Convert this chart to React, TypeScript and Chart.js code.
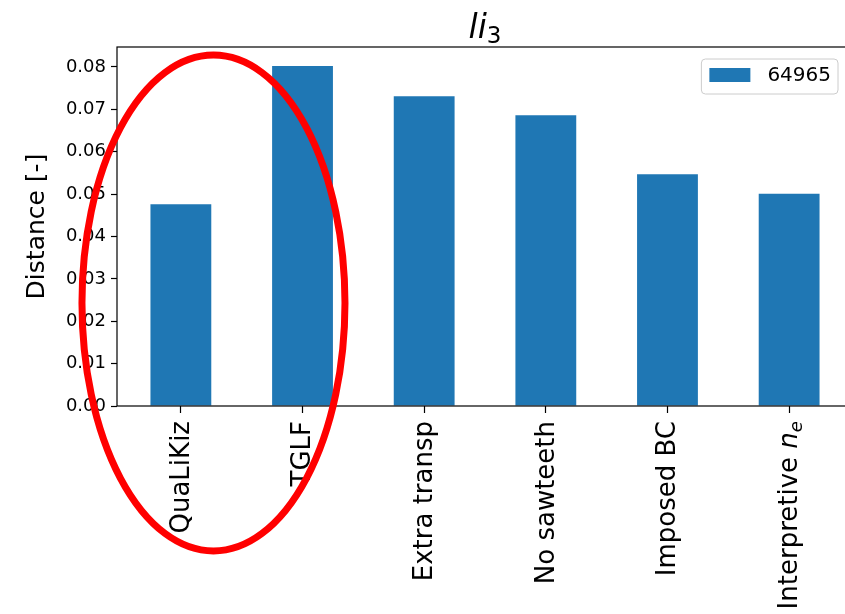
import React, { useEffect, useRef } from 'react';
import { Chart, registerables } from 'chart.js';

Chart.register(...registerables);

const FONT = '"DejaVu Sans", sans-serif';

// ---- data ----
const categories = ['QuaLiKiz', 'TGLF', 'Extra transp', 'No sawteeth', 'Imposed BC', 'Interpretive $n_e$'];
const seriesLabel = '64965';
const seriesValues = [0.0476, 0.0802, 0.0731, 0.0686, 0.0547, 0.0501];
const yTickValues = [0, 0.01, 0.02, 0.03, 0.04, 0.05, 0.06, 0.07, 0.08];
const yMin = 0;
const yMax = 0.0847;
const xMin = -0.525;
const xMax = 5.525;
const titleMain = 'li';
const titleSub = '3';
const yAxisLabel = 'Distance [-]';
// annotation ellipse in data units: [centerX, centerY, radiusX, radiusY]
const ellipseData = [0.268, 0.0243, 1.081, 0.0585];

const BAR_COLOR = '#1f77b4';

function parseLabel(label: string) {
  const m = label.match(/^(.*)\$(\w)_(\w)\$$/);
  if (!m) return [{ text: label, style: 'normal' }];
  return [
    { text: m[1], style: 'normal' },
    { text: m[2], style: 'italic' },
    { text: m[3], style: 'sub' },
  ];
}

export default function App() {
  const ref = useRef<HTMLCanvasElement>(null);

  useEffect(() => {
    document.body.style.margin = '0';
    const canvas = ref.current;
    if (!canvas) return;

    const custom = {
      id: 'customDraw',
      afterDraw(chart: any) {
        const ctx = chart.ctx as CanvasRenderingContext2D;
        const area = chart.chartArea;
        const xs = chart.scales.x;
        const ys = chart.scales.y;
        ctx.save();

        // spines
        ctx.strokeStyle = '#000';
        ctx.lineWidth = 1.2;
        ctx.strokeRect(area.left, area.top, area.right - area.left, area.bottom - area.top);

        // x tick labels (rotated 90)
        const fs = 26;
        ctx.fillStyle = '#000';
        categories.forEach((lab, i) => {
          const x = xs.getPixelForValue(i);
          const y = area.bottom + 15;
          const parts = parseLabel(lab);
          const fonts = parts.map((p) =>
            p.style === 'normal' ? `${fs}px ${FONT}` : p.style === 'italic' ? `italic ${fs}px ${FONT}` : `italic ${fs * 0.7}px ${FONT}`
          );
          const widths = parts.map((p, k) => {
            ctx.font = fonts[k];
            return ctx.measureText(p.text).width;
          });
          const total = widths.reduce((a, b) => a + b, 0);
          ctx.save();
          ctx.translate(x, y);
          ctx.rotate(-Math.PI / 2);
          ctx.textAlign = 'left';
          ctx.textBaseline = 'alphabetic';
          let pos = -total;
          parts.forEach((p, k) => {
            ctx.font = fonts[k];
            const off = p.style === 'sub' ? 5 : 0;
            ctx.fillText(p.text, pos, fs * 0.3 + off);
            pos += widths[k];
          });
          ctx.restore();
        });

        // y axis label
        ctx.save();
        ctx.translate(37, (area.top + area.bottom) / 2);
        ctx.rotate(-Math.PI / 2);
        ctx.font = `25px ${FONT}`;
        ctx.textAlign = 'center';
        ctx.textBaseline = 'middle';
        ctx.fillText(yAxisLabel, 0, 0);
        ctx.restore();

        // title
        ctx.font = `italic 33px ${FONT}`;
        const w1 = ctx.measureText(titleMain).width;
        ctx.font = `23px ${FONT}`;
        const w2 = ctx.measureText(titleSub).width;
        const cx = (area.left + area.right) / 2;
        const start = cx - (w1 + w2) / 2;
        ctx.textAlign = 'left';
        ctx.textBaseline = 'alphabetic';
        ctx.font = `italic 33px ${FONT}`;
        ctx.fillText(titleMain, start, 38);
        ctx.font = `23px ${FONT}`;
        ctx.fillText(titleSub, start + w1, 43);

        // legend
        ctx.font = `20px ${FONT}`;
        const tw = ctx.measureText(seriesLabel).width;
        const right = area.right - 15;
        const top = area.top + 12;
        const bw = 8 + 41 + 17 + tw + 7;
        const bh = 35;
        const left = right - bw;
        const r = 4;
        ctx.beginPath();
        ctx.moveTo(left + r, top);
        ctx.arcTo(right, top, right, top + bh, r);
        ctx.arcTo(right, top + bh, left, top + bh, r);
        ctx.arcTo(left, top + bh, left, top, r);
        ctx.arcTo(left, top, right, top, r);
        ctx.closePath();
        ctx.fillStyle = 'rgba(255,255,255,0.8)';
        ctx.fill();
        ctx.strokeStyle = '#cccccc';
        ctx.lineWidth = 1;
        ctx.stroke();
        ctx.fillStyle = BAR_COLOR;
        ctx.fillRect(left + 8, top + 9, 41, 14);
        ctx.fillStyle = '#000';
        ctx.textBaseline = 'middle';
        ctx.fillText(seriesLabel, left + 8 + 41 + 17, top + 17);

        // red ellipse annotation
        const [ecx, ecy, erx, ery] = ellipseData;
        const px = xs.getPixelForValue(ecx);
        const py = ys.getPixelForValue(ecy);
        const prx = Math.abs(xs.getPixelForValue(ecx + erx) - px);
        const pry = Math.abs(ys.getPixelForValue(ecy + ery) - py);
        ctx.beginPath();
        ctx.ellipse(px, py, prx, pry, 0, 0, Math.PI * 2);
        ctx.strokeStyle = '#ff0000';
        ctx.lineWidth = 7;
        ctx.stroke();

        ctx.restore();
      },
    };

    const chart = new Chart(canvas, {
      type: 'bar',
      data: {
        datasets: [
          {
            label: seriesLabel,
            data: seriesValues.map((v, i) => ({ x: i, y: v })),
            backgroundColor: BAR_COLOR,
            borderWidth: 0,
            barPercentage: 0.5,
            categoryPercentage: 1,
          },
        ],
      },
      options: {
        responsive: false,
        animation: false,
        devicePixelRatio: 1,
        layout: { padding: { top: 47, left: 0, right: 17, bottom: 0 } },
        plugins: {
          legend: { display: false },
          title: { display: false },
          tooltip: { enabled: false },
        },
        scales: {
          x: {
            type: 'linear',
            min: xMin,
            max: xMax,
            offset: false,
            afterBuildTicks: (scale: any) => {
              scale.ticks = categories.map((_, i) => ({ value: i }));
            },
            afterFit: (scale: any) => {
              scale.height = 208;
              scale.paddingLeft = 0;
              scale.paddingRight = 0;
            },
            ticks: { display: false },
            grid: {
              display: true,
              offset: false,
              drawOnChartArea: false,
              drawTicks: true,
              tickLength: 7,
              tickColor: '#000',
              tickWidth: 1.2,
            },
            border: { display: false },
          },
          y: {
            type: 'linear',
            min: yMin,
            max: yMax,
            afterBuildTicks: (scale: any) => {
              scale.ticks = yTickValues.map((v) => ({ value: v }));
            },
            afterFit: (scale: any) => {
              scale.width = 117;
            },
            ticks: {
              callback: (v: any) => Number(v).toFixed(2),
              font: { family: FONT, size: 18 },
              color: '#000',
              padding: 5,
            },
            grid: {
              display: true,
              offset: false,
              drawOnChartArea: false,
              drawTicks: true,
              tickLength: 6,
              tickColor: '#000',
              tickWidth: 1.2,
            },
            border: { display: false },
          },
        },
      },
      plugins: [custom],
    });

    return () => chart.destroy();
  }, []);

  return (
    <div style={{ width: 845, height: 614, overflow: 'hidden', position: 'relative', background: '#fff' }}>
      <canvas ref={ref} width={870} height={614} style={{ display: 'block' }} />
    </div>
  );
}
